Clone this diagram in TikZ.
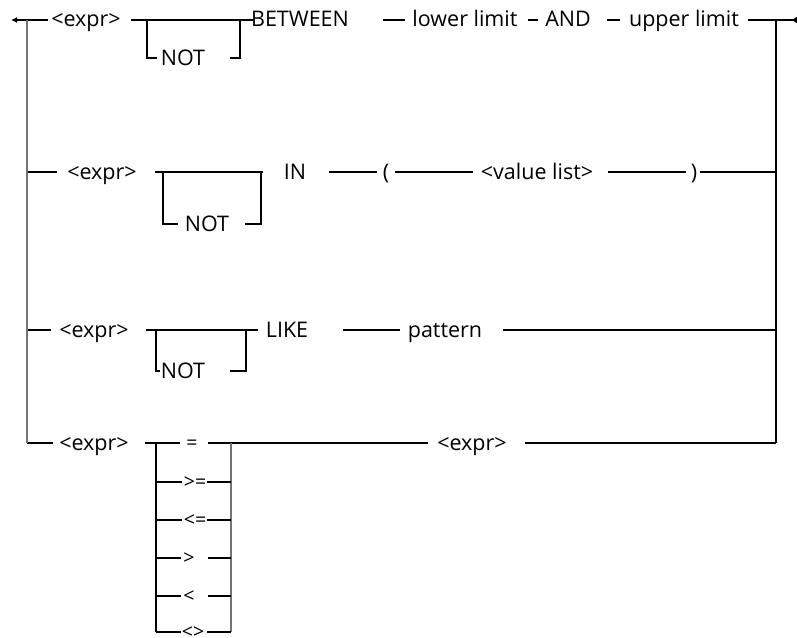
\documentclass[tikz,border=0pt]{standalone}
\usepackage{fontspec}
\setmainfont{Open Sans}
\usetikzlibrary{arrows.meta}
\tikzset{
  lbl/.style={font=\fontsize{21.5}{25}\selectfont, inner sep=0pt, anchor=base},
  opl/.style={font=\fontsize{19.5}{22}\selectfont, inner sep=0pt, anchor=base},
  ln/.style={line width=1.7pt, black},
  bus/.style={line width=1.1pt, black!55},
  tipa/.tip={Latex[length=6pt,width=6pt]},
  tipb/.tip={Latex[reversed,length=6pt,width=7pt]}
}
\begin{document}
\begin{tikzpicture}[x=1pt,y=-1pt]
\useasboundingbox (0,0) rectangle (797,637);
% ---------- row 1 : BETWEEN ----------
\node[lbl] (e1)  at (86,27)  {<expr>};
\node[lbl] (n1)  at (183,65) {NOT};
\node[lbl] (bt)  at (300,27) {BETWEEN};
\node[lbl] (ll)  at (465,27) {lower limit};
\node[lbl] (and) at (568,27) {AND};
\node[lbl] (ul)  at (684,27) {upper limit};
\coordinate (s0) at (11,20);  \coordinate (s1) at (48,20);
\coordinate (L1) at (27,20);
\coordinate (a1) at (131,20); \coordinate (a2) at (253,20);
\coordinate (b1) at (147,20); \coordinate (b2) at (147,58); \coordinate (b3) at (157,58);
\coordinate (b4) at (230,58); \coordinate (b5) at (240,58); \coordinate (b6) at (240,20);
\coordinate (c1) at (383,20); \coordinate (c2) at (405,20);
\coordinate (c3) at (528,20); \coordinate (c4) at (538,20);
\coordinate (c5) at (607,20); \coordinate (c6) at (620,20);
\coordinate (c7) at (748,20); \coordinate (c8) at (797,20);
\coordinate (R1) at (776,20);
\draw[ln,tipa-] (s0) -- (s1);
\draw[ln] (a1) -- (a2);
\draw[ln] (b1) -- (b2) -- (b3);
\draw[ln] (b4) -- (b5) -- (b6);
\draw[ln] (c1) -- (c2);
\draw[ln] (c3) -- (c4);
\draw[ln] (c5) -- (c6);
\draw[ln,-tipb] (c7) -- (c8);
% ---------- row 2 : IN ----------
\node[lbl] (e2) at (102,179) {<expr>};
\node[lbl] (n2) at (207,231) {NOT};
\node[lbl] (in) at (295,179) {IN};
\node[lbl] (lp) at (386,179) {(};
\node[lbl] (vl) at (537,179) {<value list>};
\node[lbl] (rp) at (694,179) {)};
\coordinate (L2) at (27,172); \coordinate (d1) at (57,172);
\coordinate (d2) at (155,172); \coordinate (d3) at (263,172);
\coordinate (f1) at (163,172); \coordinate (f2) at (163,224); \coordinate (f3) at (178,224);
\coordinate (f4) at (245,224); \coordinate (f5) at (261,224); \coordinate (f6) at (261,172);
\coordinate (g1) at (329,172); \coordinate (g2) at (377,172);
\coordinate (g3) at (395,172); \coordinate (g4) at (473,172);
\coordinate (g5) at (608,172); \coordinate (g6) at (686,172);
\coordinate (g7) at (700,172); \coordinate (R2) at (776,172);
\draw[ln] (L2) -- (d1);
\draw[ln] (d2) -- (d3);
\draw[ln] (f1) -- (f2) -- (f3);
\draw[ln] (f4) -- (f5) -- (f6);
\draw[ln] (g1) -- (g2);
\draw[ln] (g3) -- (g4);
\draw[ln] (g5) -- (g6);
\draw[ln] (g7) -- (R2);
% ---------- row 3 : LIKE ----------
\node[lbl] (e3) at (94,337)  {<expr>};
\node[lbl] (n3) at (183,378) {NOT};
\node[lbl] (lk) at (287,337) {LIKE};
\node[lbl] (pt) at (445,337) {pattern};
\coordinate (L3) at (27,330); \coordinate (h1) at (51,330);
\coordinate (h2) at (146,330); \coordinate (h3) at (258,330);
\coordinate (k1) at (156,330); \coordinate (k2) at (156,371); \coordinate (k3) at (160,371);
\coordinate (k4) at (230,371); \coordinate (k5) at (246,371); \coordinate (k6) at (246,330);
\coordinate (m1) at (343,330); \coordinate (m2) at (400,330);
\coordinate (m3) at (503,330); \coordinate (R3) at (776,330);
\draw[ln] (L3) -- (h1);
\draw[ln] (h2) -- (h3);
\draw[ln] (k1) -- (k2) -- (k3);
\draw[ln] (k4) -- (k5) -- (k6);
\draw[ln] (m1) -- (m2);
\draw[ln] (m3) -- (R3);
% ---------- row 4 : comparison ----------
\node[lbl] (e4) at (94,450)  {<expr>};
\node[lbl] (e5) at (472,450) {<expr>};
\node[opl] (o1) at (192,449) {=};
\node[opl] (o2) at (195,488) {>=};
\node[opl] (o3) at (195,526) {<=};
\node[opl] (o4) at (189,564) {>};
\node[opl] (o5) at (189,602) {<};
\node[opl] (o6) at (193,638) {<>};
\coordinate (L4) at (27,443); \coordinate (p1) at (53,443);
\coordinate (p2) at (145,443); \coordinate (p3) at (180,443);
\coordinate (p4) at (208,443); \coordinate (p5) at (428,443);
\coordinate (p6) at (525,443); \coordinate (R4) at (776,443);
\coordinate (V1) at (156,443); \coordinate (V2) at (156,632);
\coordinate (W1) at (231,443); \coordinate (W2) at (231,632);
\draw[ln] (L4) -- (p1);
\draw[ln] (p2) -- (p3);
\draw[ln] (p4) -- (p5);
\draw[ln] (p6) -- (R4);
\draw[ln] (V1) -- (V2);
\draw[bus] (W1) -- (W2);
\foreach \yy/\xa/\xb in {482/182/207, 520/182/207, 558/181/208, 596/181/208, 632/181/207}{
  \coordinate (ql) at (156,\yy); \coordinate (qa) at (\xa,\yy);
  \coordinate (qb) at (\xb,\yy); \coordinate (qr) at (231,\yy);
  \draw[ln] (ql) -- (qa);
  \draw[ln] (qb) -- (qr);
}
% ---------- buses ----------
\draw[bus] (L1) -- (L4);
\draw[ln] (R1) -- (R4);
\end{tikzpicture}
\end{document}
